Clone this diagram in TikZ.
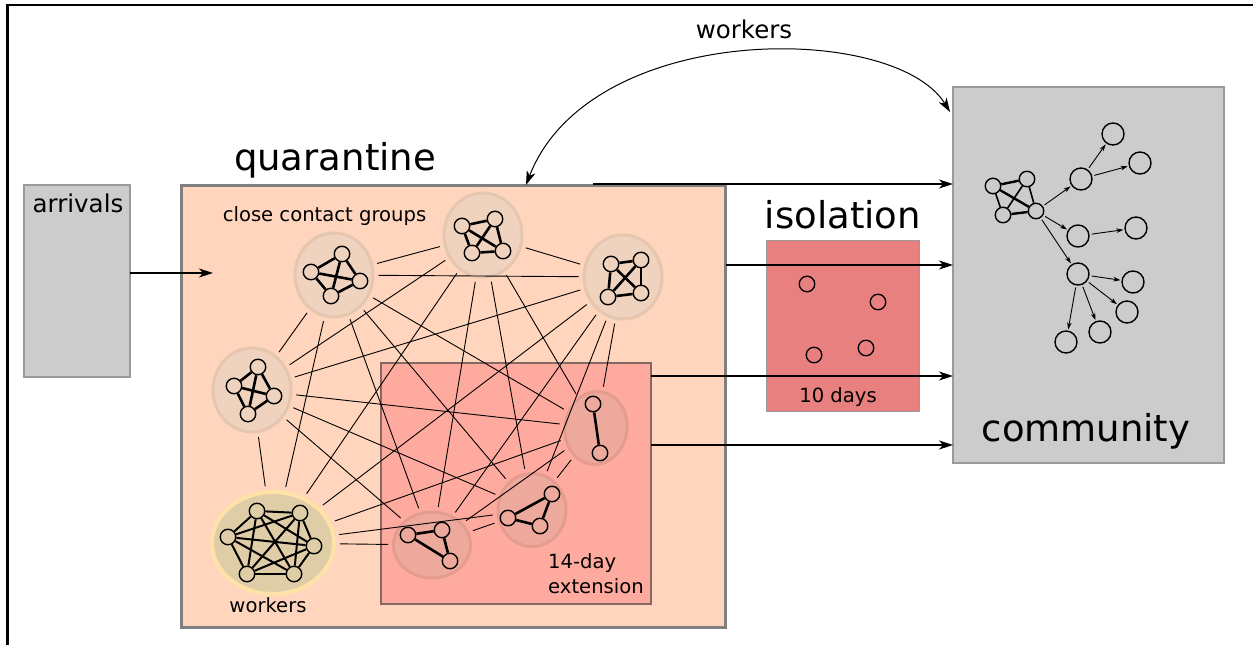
\documentclass[tikz,border=0pt]{standalone}
\usepackage{fontspec}
\setmainfont{DejaVu Sans}
\usetikzlibrary{shapes.geometric,arrows.meta}
\definecolor{quarfill}{HTML}{FFD6BD}
\definecolor{quarline}{HTML}{808080}
\definecolor{extfill}{HTML}{FFAA9E}
\definecolor{extline}{HTML}{85685F}
\definecolor{isofill}{HTML}{E88080}
\definecolor{boxgray}{HTML}{CCCCCC}
\definecolor{boxline}{HTML}{9A9A9A}
\definecolor{grpfill}{HTML}{F0D3BF}
\definecolor{grpline}{HTML}{E5C6AF}
\definecolor{egrpfill}{HTML}{EEA99D}
\definecolor{egrpline}{HTML}{E49C90}
\definecolor{wfill}{HTML}{DFCDA8}
\definecolor{wline}{HTML}{FFE2A8}
\tikzset{
  bigtext/.style={font=\fontsize{37}{44}\selectfont, anchor=base, inner sep=0},
  midtext/.style={font=\fontsize{24.5}{29}\selectfont, anchor=base, inner sep=0},
  smalltext/.style={font=\fontsize{19.6}{24}\selectfont, anchor=base, inner sep=0},
  graybox/.style={draw=boxline, fill=boxgray, line width=1.2pt, inner sep=0, outer sep=0},
  grp/.style={ellipse, draw=grpline, fill=grpfill, line width=3pt, inner sep=0},
  egrp/.style={grp, draw=egrpline, fill=egrpfill},
  pnode/.style={circle, draw=black, line width=1.4pt, inner sep=0, minimum size=15.5pt, fill=grpfill},
  epnode/.style={pnode, fill=egrpfill},
  wpnode/.style={pnode, fill=wfill},
  link/.style={line width=0.9pt, shorten >=4pt, shorten <=4pt},
  tie/.style={line width=2.6pt},
  wtie/.style={line width=2pt},
  bigarrow/.style={line width=1.1pt, -{Stealth[length=14pt,width=9pt,inset=4pt]}},
  twoarrow/.style={line width=1pt, {Stealth[length=14pt,width=9pt,inset=4pt]}-{Stealth[length=14pt,width=9pt,inset=4pt]}},
  carrow/.style={line width=0.9pt, -{Stealth[length=7pt,width=4.5pt,inset=2pt]}, shorten <=2pt, shorten >=1pt},
  cnode/.style={circle, draw=black, line width=1.4pt, inner sep=0, minimum size=22pt},
  ck/.style={circle, draw=black, line width=1.4pt, inner sep=0, minimum size=15.5pt, fill=boxgray},
  inode/.style={circle, draw=black, line width=1.3pt, inner sep=0, minimum size=15.5pt}
}
\begin{document}
\begin{tikzpicture}[x=1pt,y=-1pt]
\useasboundingbox (0,0) rectangle (1253,645);
\fill[white] (0,0) rectangle (1253,645);
% frame
\draw[line width=2.2pt] (7.5,645) -- (7.5,5) -- (1253,5);
% boxes
\node[graybox, minimum width=106, minimum height=192] (arr) at (77,281) {};
\node[draw=quarline, fill=quarfill, line width=3pt, inner sep=0, outer sep=0, minimum width=544, minimum height=442] (quar) at (453,406) {};
\node[draw=extline, fill=extfill, line width=2pt, inner sep=0, outer sep=0, minimum width=270, minimum height=241] (ext) at (516,483.5) {};
\node[draw=boxline, fill=isofill, line width=1pt, inner sep=0, outer sep=0, minimum width=153, minimum height=171] (iso) at (842.5,325.5) {};
\node[graybox, minimum width=271, minimum height=376] (comm) at (1088.5,275) {};
% texts
\node[bigtext] (tquar) at (335,170) {quarantine};
\node[bigtext] (tiso) at (843,228) {isolation};
\node[bigtext] (tcomm) at (1086,441) {community};
\node[midtext] (tarr) at (78,212) {arrivals};
\node[midtext] (tw) at (744,38) {workers};
\node[smalltext] (tccg) at (324.5,221) {close contact groups};
\node[smalltext] (tw2) at (268,612) {workers};
\node[smalltext, anchor=base west] (t14) at (548,568) {14-day};
\node[smalltext, anchor=base west] (text) at (548,593) {extension};
\node[smalltext] (t10) at (838,402) {10 days};
% isolation individuals
\node[inode] (i1) at (807,284) {};
\node[inode] (i2) at (878,302) {};
\node[inode] (i3) at (814,355) {};
\node[inode] (i4) at (866,348) {};
% groups
\node[grp, minimum width=78, minimum height=84] (g1) at (334,275) {};
\node[grp, minimum width=78, minimum height=84] (g2) at (483,235) {};
\node[grp, minimum width=78, minimum height=84] (g3) at (623,277) {};
\node[grp, minimum width=78, minimum height=84] (g4) at (252,390) {};
\node[grp, draw=wline, fill=wfill, line width=4pt, minimum width=122, minimum height=102] (gw) at (273,543) {};
\node[egrp, minimum width=77, minimum height=66] (g5) at (432,545) {};
\node[egrp, minimum width=68, minimum height=73] (g6) at (532,510) {};
\node[egrp, minimum width=62, minimum height=73, rotate=-8] (g7) at (596,428) {};
% links between groups
\foreach \a/\b in {g1/g2,g1/g3,g1/g4,g1/gw,g1/g5,g1/g6,g1/g7,
                   g2/g3,g2/g4,g2/gw,g2/g5,g2/g6,g2/g7,
                   g3/g4,g3/gw,g3/g5,g3/g6,g3/g7,
                   g4/gw,g4/g5,g4/g6,g4/g7,
                   gw/g5,gw/g6,gw/g7,
                   g5/g6,g5/g7,g6/g7}
  \draw[link] (\a) -- (\b);
% group members
\node[pnode] (a1) at (342,254) {};
\node[pnode] (a2) at (311,272) {};
\node[pnode] (a3) at (360,281) {};
\node[pnode] (a4) at (331,296) {};
\node[pnode] (b1) at (462,226) {};
\node[pnode] (b2) at (495,219) {};
\node[pnode] (b3) at (472,253) {};
\node[pnode] (b4) at (503,251) {};
\node[pnode] (c1) at (611,264) {};
\node[pnode] (c2) at (641,260) {};
\node[pnode] (c3) at (608,297) {};
\node[pnode] (c4) at (641,293) {};
\node[pnode] (d1) at (258,367) {};
\node[pnode] (d2) at (234,386) {};
\node[pnode] (d3) at (274,396) {};
\node[pnode] (d4) at (248,414) {};
\foreach \p in {a,b,c,d}{
  \draw[tie] (\p1) -- (\p2);
  \draw[tie] (\p1) -- (\p3);
  \draw[tie] (\p1) -- (\p4);
  \draw[tie] (\p2) -- (\p3);
  \draw[tie] (\p2) -- (\p4);
  \draw[tie] (\p3) -- (\p4);
}
\node[wpnode] (w1) at (257,511) {};
\node[wpnode] (w2) at (300,513) {};
\node[wpnode] (w3) at (228,537) {};
\node[wpnode] (w4) at (314,546) {};
\node[wpnode] (w5) at (247,574) {};
\node[wpnode] (w6) at (294,574) {};
\foreach \a/\b in {w1/w2,w1/w3,w1/w4,w1/w5,w1/w6,w2/w3,w2/w4,w2/w5,w2/w6,
                   w3/w4,w3/w5,w3/w6,w4/w5,w4/w6,w5/w6}
  \draw[wtie] (\a) -- (\b);
\node[epnode] (e1) at (408,535) {};
\node[epnode] (e2) at (442,530) {};
\node[epnode] (e3) at (450,561) {};
\node[epnode] (f1) at (552,494) {};
\node[epnode] (f2) at (508,518) {};
\node[epnode] (f3) at (540,526) {};
\node[epnode] (h1) at (593,404) {};
\node[epnode] (h2) at (600,453) {};
\draw[tie] (e1) -- (e2); \draw[tie] (e1) -- (e3); \draw[tie] (e2) -- (e3);
\draw[tie] (f1) -- (f2); \draw[tie] (f1) -- (f3); \draw[tie] (f2) -- (f3);
\draw[tie] (h1) -- (h2);
% community network
\node[ck] (k1) at (993,186) {};
\node[ck] (k2) at (1027,179) {};
\node[ck] (k3) at (1003,215) {};
\node[ck] (k4) at (1036,211) {};
\draw[line width=2.4pt] (k1) -- (k2);
\draw[line width=2.4pt] (k1) -- (k4);
\draw[line width=2.4pt] (k3) -- (k4);
\draw[line width=1.6pt] (k1) -- (k3);
\draw[line width=1.6pt] (k2) -- (k3);
\draw[line width=1.6pt] (k2) -- (k4);
\node[cnode] (n1) at (1081,179) {};
\node[cnode] (n2) at (1113,134) {};
\node[cnode] (n3) at (1140,163) {};
\node[cnode] (n4) at (1078,236) {};
\node[cnode] (n5) at (1136,228) {};
\node[cnode] (n6) at (1078,274) {};
\node[cnode] (n7) at (1133,282) {};
\node[cnode] (n8) at (1127,312) {};
\node[cnode] (n9) at (1100,332) {};
\node[cnode] (n10) at (1066,342) {};
\foreach \a/\b in {k4/n1,k4/n4,k4/n6,n1/n2,n1/n3,n4/n5,n6/n7,n6/n8,n6/n9,n6/n10}
  \draw[carrow] (\a) -- (\b);
% flows
\coordinate (arrtip) at (213,273);
\draw[bigarrow] (arr.east |- arrtip) -- (arrtip);
\coordinate (s1) at (593,184);
\coordinate (s2) at (726,265);
\coordinate (s3) at (651,376);
\coordinate (s4) at (651,445);
\draw[bigarrow] (s1) -- (comm.west |- s1);
\draw[bigarrow] (s2) -- (comm.west |- s2);
\draw[bigarrow] (s3) -- (comm.west |- s3);
\draw[bigarrow] (s4) -- (comm.west |- s4);
\coordinate (wq) at (526,185);
\coordinate (wc) at (950,112);
\draw[twoarrow] (wq) .. controls (590,20) and (895,22) .. (wc);
\end{tikzpicture}
\end{document}
